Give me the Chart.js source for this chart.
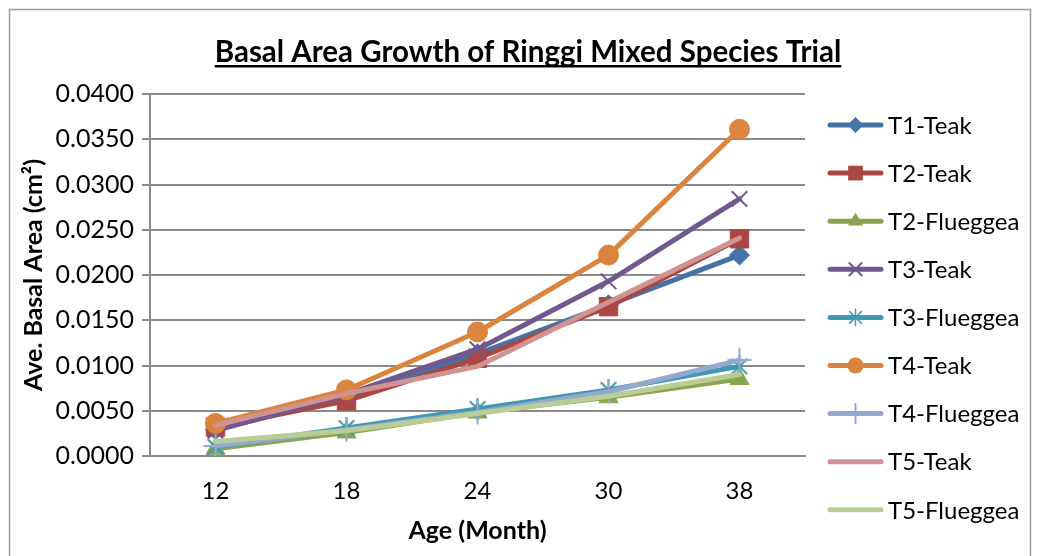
<!DOCTYPE html>
<html>
<head>
<meta charset="utf-8">
<script src="https://cdn.jsdelivr.net/npm/chart.js@4.4.1/dist/chart.umd.min.js"></script>
<style>
  html, body { margin: 0; padding: 0; background: #ffffff; }
  canvas { display: block; }
</style>
</head>
<body>
<canvas id="chart" width="1037" height="556"></canvas>
<script>
// Age at measurement (months)
const ages = ['12', '18', '24', '30', '38'];

// Average basal area (cm²) per treatment and species
const t1Teak      = [0.0029, 0.0065, 0.0113, 0.0167, 0.0222];
const t2Teak      = [0.0032, 0.0061, 0.0108, 0.0165, 0.0240];
const t2Flueggea  = [0.0008, 0.0026, 0.0048, 0.0065, 0.0085];
const t3Teak      = [0.0028, 0.0068, 0.0118, 0.0193, 0.0284];
const t3Flueggea  = [0.0010, 0.0031, 0.0052, 0.0073, 0.0099];
const t4Teak      = [0.0036, 0.0073, 0.0137, 0.0222, 0.0361];
const t4Flueggea  = [0.0011, 0.0029, 0.0048, 0.0071, 0.0106];
const t5Teak      = [0.0034, 0.0069, 0.0099, 0.0170, 0.0241];
const t5Flueggea  = [0.0016, 0.0028, 0.0047, 0.0066, 0.0090];

// Value axis tick labels, bottom to top
const yTickLabels = ['0.0000', '0.0050', '0.0100', '0.0150', '0.0200',
                     '0.0250', '0.0300', '0.0350', '0.0400'];

const FONT = 'Lato, "Open Sans", sans-serif';
const GRID = '#8a8a8a';

// Asterisk marker: an X crossed by a vertical stroke
function makeAsterisk(color, r, lw) {
  const s = Math.ceil(2 * r + 2 * lw);
  const c = document.createElement('canvas');
  c.width = s; c.height = s;
  const g = c.getContext('2d');
  const m = s / 2, d = r * Math.SQRT1_2;
  g.strokeStyle = color; g.lineWidth = lw;
  g.beginPath();
  g.moveTo(m, m - r); g.lineTo(m, m + r);
  g.moveTo(m - d, m - d); g.lineTo(m + d, m + d);
  g.moveTo(m - d, m + d); g.lineTo(m + d, m - d);
  g.stroke();
  return c;
}

function series(label, data, color, style, radius, pbw) {
  return {
    label, data,
    borderColor: color,
    backgroundColor: color,
    pointBackgroundColor: color,
    pointBorderColor: color,
    pointStyle: style,
    pointRadius: radius,
    pointHoverRadius: radius,
    pointBorderWidth: pbw,
    borderWidth: 5,
    borderCapStyle: 'round',
    borderJoinStyle: 'round',
    tension: 0,
    fill: false
  };
}

const datasets = [
  series('T1-Teak',      t1Teak,     '#4572A7', 'rectRot',  10, 1),
  series('T2-Teak',      t2Teak,     '#AA4643', 'rect',     13, 1),
  series('T2-Flueggea',  t2Flueggea, '#89A54E', 'triangle', 11, 1),
  series('T3-Teak',      t3Teak,     '#71588F', 'crossRot', 11, 2),
  series('T3-Flueggea',  t3Flueggea, '#4198AF', makeAsterisk('#4198AF', 11, 2), 11, 2),
  series('T4-Teak',      t4Teak,     '#DB843D', 'circle',   10, 1),
  series('T4-Flueggea',  t4Flueggea, '#93A9CF', 'cross',    12, 2),
  series('T5-Teak',      t5Teak,     '#D19392', 'circle',    0, 0),
  series('T5-Flueggea',  t5Flueggea, '#B9CD96', 'circle',    0, 0)
];
// later series are painted over earlier ones
datasets.forEach((ds, i) => { ds.order = datasets.length - i; });

// Marker shapes for the legend swatches
function drawMarker(ctx, style, x, y, r, color, lw) {
  ctx.save();
  ctx.fillStyle = color; ctx.strokeStyle = color; ctx.lineWidth = lw;
  if (style instanceof HTMLCanvasElement) {
    const k = r / 11;
    ctx.drawImage(style, x - style.width * k / 2, y - style.height * k / 2, style.width * k, style.height * k);
    ctx.restore();
    return;
  }
  ctx.beginPath();
  if (style === 'rectRot') {
    ctx.moveTo(x, y - r); ctx.lineTo(x + r, y); ctx.lineTo(x, y + r); ctx.lineTo(x - r, y); ctx.closePath();
    ctx.fill();
  } else if (style === 'rect') {
    const s = r * Math.SQRT1_2;
    ctx.rect(x - s, y - s, 2 * s, 2 * s); ctx.fill();
  } else if (style === 'triangle') {
    const w = r * Math.sin(Math.PI / 3);
    ctx.moveTo(x, y - r); ctx.lineTo(x + w, y + r / 2); ctx.lineTo(x - w, y + r / 2); ctx.closePath();
    ctx.fill();
  } else if (style === 'circle') {
    ctx.arc(x, y, r, 0, Math.PI * 2); ctx.fill();
  } else if (style === 'crossRot') {
    const d = r * Math.SQRT1_2;
    ctx.moveTo(x - d, y - d); ctx.lineTo(x + d, y + d);
    ctx.moveTo(x - d, y + d); ctx.lineTo(x + d, y - d); ctx.stroke();
  } else if (style === 'cross') {
    ctx.moveTo(x, y - r); ctx.lineTo(x, y + r);
    ctx.moveTo(x - r, y); ctx.lineTo(x + r, y); ctx.stroke();
  }
  ctx.restore();
}

// Outer frame, title and side legend
const decorations = {
  id: 'decorations',
  beforeDraw(chart) {
    const ctx = chart.ctx;
    ctx.save();
    ctx.fillStyle = '#ffffff';
    ctx.fillRect(0, 0, chart.width, chart.height);
    ctx.strokeStyle = '#9a9a9a';
    ctx.lineWidth = 1.5;
    ctx.strokeRect(9.5, 9.5, 1021, 560);
    ctx.restore();
  },
  afterDraw(chart) {
    const ctx = chart.ctx;
    ctx.save();
    // title, underlined
    const title = 'Basal Area Growth of Ringgi Mixed Species Trial';
    ctx.font = 'bold 29.5px ' + FONT;
    ctx.fillStyle = '#000';
    ctx.textAlign = 'center';
    ctx.textBaseline = 'alphabetic';
    const cx = 528, base = 62;
    ctx.fillText(title, cx, base);
    const w = ctx.measureText(title).width;
    ctx.fillRect(cx - w / 2, base + 3, w, 2.5);

    // legend
    ctx.textAlign = 'left';
    ctx.textBaseline = 'middle';
    chart.data.datasets.forEach((ds, i) => {
      const y = 125 + i * 48.1;
      ctx.strokeStyle = ds.borderColor;
      ctx.lineWidth = 5;
      ctx.lineCap = 'round';
      ctx.beginPath(); ctx.moveTo(830, y); ctx.lineTo(881, y); ctx.stroke();
      if (ds.pointRadius > 0) {
        drawMarker(ctx, ds.pointStyle, 855.5, y, ds.pointRadius * 0.8, ds.borderColor, ds.pointBorderWidth);
      }
      ctx.fillStyle = '#000';
      ctx.font = '24px ' + FONT;
      ctx.fillText(ds.label, 888, y + 1);
    });
    ctx.restore();
  }
};

new Chart(document.getElementById('chart'), {
  type: 'line',
  data: { labels: ages, datasets },
  plugins: [decorations],
  options: {
    responsive: false,
    animation: false,
    devicePixelRatio: 1,
    layout: { padding: { left: 19, right: 232, top: 94, bottom: 0 } },
    plugins: {
      legend: { display: false },
      title: { display: false },
      tooltip: { enabled: false }
    },
    events: [],
    scales: {
      x: {
        type: 'category',
        offset: true,
        grid: { display: false, drawTicks: false },
        border: { display: true, color: GRID, width: 2 },
        ticks: { color: '#000', font: { family: FONT, size: 24 }, padding: 21, maxRotation: 0 },
        title: {
          display: true, text: 'Age (Month)', color: '#000',
          font: { family: FONT, size: 25, weight: 'bold' },
          padding: { top: 0, bottom: 10 }
        },
        afterFit(scale) { scale.height = 100; }
      },
      y: {
        min: 0, max: 0.04,
        ticks: {
          stepSize: 0.005, color: '#000',
          font: { family: FONT, size: 25 }, padding: 8,
          callback: (v, i) => yTickLabels[i]
        },
        grid: { color: GRID, lineWidth: 2, tickLength: 8, drawTicks: true },
        border: { display: true, color: GRID, width: 2 },
        title: {
          display: true, text: 'Ave. Basal Area (cm²)', color: '#000',
          font: { family: FONT, size: 25, weight: 'bold' },
          padding: { top: 0, bottom: 0 }
        },
        afterFit(scale) { scale.width = 131; }
      }
    }
  }
});
</script>
</body>
</html>
